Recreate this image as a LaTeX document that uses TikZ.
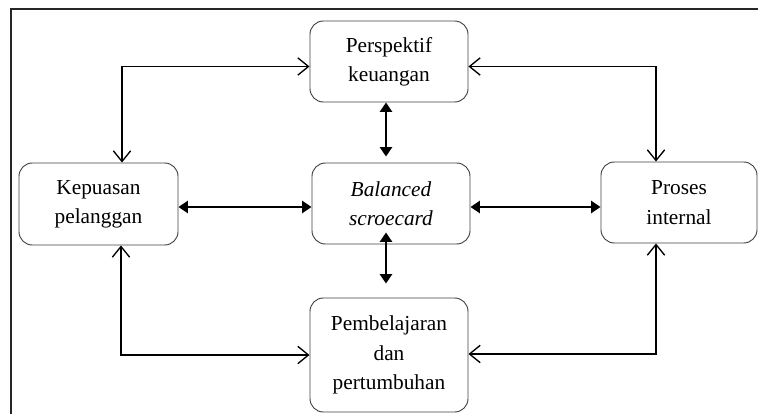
\documentclass[tikz,border=0pt]{standalone}
\usepackage{fontspec}
\setmainfont{Liberation Serif}
\usetikzlibrary{arrows.meta,calc}
\tikzset{
  box/.style={draw=black!75, line width=0.7pt, rounded corners=10pt, inner sep=0pt,
    align=center, font=\fontsize{16}{22}\selectfont, text=black},
  link/.style={line width=1pt, {Straight Barb[length=8pt,width=13pt]}-{Straight Barb[length=8pt,width=13pt]}},
  core/.style={line width=1.6pt, {Triangle[length=7pt,width=9pt]}-{Triangle[length=7pt,width=9pt]}}
}
\begin{document}
\begin{tikzpicture}[x=0.75pt,y=-0.75pt]
  \useasboundingbox (0,0) rectangle (758,414);
  % outer frame (left and top edges)
  \draw[line width=1.5pt, black!85] (11,414) -- (11,9) -- (758,9);

  % perspective boxes
  \node[box, minimum width=158*0.75pt, minimum height=81*0.75pt]  (per) at (389,61.5)  {Perspektif\\keuangan};
  \node[box, minimum width=159*0.75pt, minimum height=82*0.75pt]  (kep) at (98.5,204)  {Kepuasan\\pelanggan};
  \node[box, minimum width=158*0.75pt, minimum height=81*0.75pt]  (bal) at (391,203.5) {\itshape Balanced\\\itshape scroecard};
  \node[box, minimum width=156*0.75pt, minimum height=81*0.75pt]  (pro) at (679,202.5) {Proses\\internal};
  \node[box, minimum width=158*0.75pt, minimum height=114*0.75pt] (pem) at (389,355)   {Pembelajaran\\dan\\pertumbuhan};

  % outer ring of links
  \draw[link] ($(kep.north)+(23.5,0)$) |- ($(per.west)+(0,5)$);
  \draw[link] ($(per.east)+(0,5)$) -| ($(pro.north)+(-23,0)$);
  \draw[link] ($(kep.south)+(22.5,0)$) |- (pem.west);
  \draw[link] ($(pem.east)+(0,-1)$) -| ($(pro.south)+(-23,0)$);

  % links to the centre
  \draw[core] ($(kep.east)+(0,3)$) -- ($(bal.west)+(0,3.5)$);
  \draw[core] ($(bal.east)+(0,3.5)$) -- ($(pro.west)+(0,4.5)$);
  \draw[core] ($(per.south)+(-3,0)$) -- ($(bal.north)+(-5,-6)$);
  \draw[core] ($(bal.south)+(-5,-12)$) -- ($(pem.north)+(-3,-14)$);
\end{tikzpicture}
\end{document}
